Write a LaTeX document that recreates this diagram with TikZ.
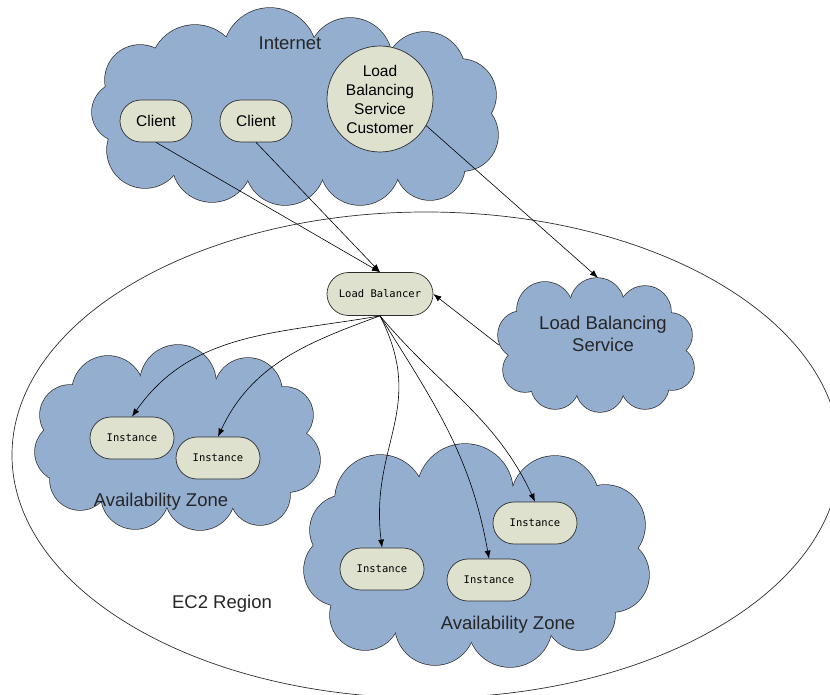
\documentclass[tikz,border=0pt]{standalone}
\usepackage{fontspec}
\setmainfont{Liberation Sans}
\newfontfamily\boxmono{DejaVu Sans Mono}
\usetikzlibrary{shapes.misc,arrows.meta}

\definecolor{cloudblue}{RGB}{148,174,208}
\definecolor{pale}{RGB}{221,225,206}
\definecolor{edge}{RGB}{45,45,45}

% a cloud made of overlapping puffs: outline first, then the fill on top,
% so that only the outer half of each puff's border stays visible
\newcommand\puffcloud[2]{%
  \foreach \px/\py/\pr in {#1}
    \draw[edge, line width=1.4pt] (\px,-\py) circle[radius=\pr];
  \foreach \px/\py/\pr in {#1}
    \fill[cloudblue] (\px,-\py) circle[radius=\pr];
  \fill[cloudblue] #2;
}

\tikzset{
  capsule/.style={rounded rectangle, draw=edge, line width=0.7pt, fill=pale,
    inner sep=0pt},
  client/.style={capsule, minimum width=72pt, minimum height=42pt,
    font=\fontsize{15.5}{18}\selectfont},
  instance/.style={capsule, minimum width=84pt, minimum height=42pt,
    font=\boxmono\fontsize{10.5}{12}\selectfont},
  label/.style={font=\fontsize{18.5}{22}\selectfont, text=black!85},
  link/.style={-{Latex[length=8pt,width=6pt]}, line width=0.6pt, black}
}

\begin{document}
\begin{tikzpicture}[x=1pt,y=1pt]
\useasboundingbox (0,0) rectangle (830,-695);

% EC2 region outline
\begin{scope}
  \clip (0,0) rectangle (830,-695);
  \draw[line width=0.7pt, edge] (426,-455) ellipse [x radius=414, y radius=243];
\end{scope}
\node[label] (ec2) at (222,-604) {EC2 Region};

% Internet cloud
\puffcloud{195/70/45, 270/55/47, 350/60/42, 425/72/40, 460/95/36, 462/135/36,
  430/165/35, 360/165/40, 285/165/40, 212/162/40, 145/150/38, 122/112/30,
  140/80/35}
  {(195,-70) -- (270,-55) -- (350,-60) -- (425,-72) -- (460,-95) -- (462,-135)
   -- (430,-165) -- (360,-165) -- (285,-165) -- (212,-162) -- (145,-150)
   -- (122,-112) -- (140,-80) -- cycle}

% Load Balancing Service cloud
\puffcloud{545/310/28, 597/305/27, 645/312/26, 670/335/22, 672/368/22,
  645/385/24, 600/388/24, 555/385/24, 525/370/22, 522/335/24}
  {(545,-310) -- (597,-305) -- (645,-312) -- (670,-335) -- (672,-368)
   -- (645,-385) -- (600,-388) -- (555,-385) -- (525,-370) -- (522,-335) -- cycle}
\node[inner sep=0pt, minimum width=198pt, minimum height=134pt] (lbs)
  at (598,-345) {};

% left Availability Zone cloud
\puffcloud{108/392/36, 178/383/38, 248/392/34, 285/415/28, 288/460/32,
  260/495/30, 200/495/35, 135/495/34, 80/480/30, 65/452/30, 70/415/30}
  {(108,-392) -- (178,-383) -- (248,-392) -- (285,-415) -- (288,-460)
   -- (260,-495) -- (200,-495) -- (135,-495) -- (80,-480) -- (65,-452)
   -- (70,-415) -- cycle}

% right Availability Zone cloud
\puffcloud{380/500/45, 465/492/48, 555/500/44, 605/525/40, 612/575/37,
  580/615/35, 510/625/42, 435/625/40, 365/615/35, 340/570/36, 345/530/35}
  {(380,-500) -- (465,-492) -- (555,-500) -- (605,-525) -- (612,-575)
   -- (580,-615) -- (510,-625) -- (435,-625) -- (365,-615) -- (340,-570)
   -- (345,-530) -- cycle}

% cloud captions
\node[label] (internettxt) at (290,-43) {Internet};
\node[label, align=center] (lbstxt) at (603,-334)
  {Load Balancing\\Service};
\node[label] (azltxt) at (161,-502) {Availability Zone};
\node[label] (azrtxt) at (508,-625) {Availability Zone};

% internet side
\node[client] (c1) at (156,-121) {Client};
\node[client] (c2) at (256,-121) {Client};
\node[circle, draw=edge, line width=0.7pt, fill=pale, minimum size=106pt,
  inner sep=0pt, align=center, font=\fontsize{15.5}{19}\selectfont]
  (lbsc) at (380,-99) {Load\\Balancing\\Service\\Customer};

% balancer and instances
\node[capsule, minimum width=106pt, minimum height=43pt,
  font=\boxmono\fontsize{10.5}{12}\selectfont] (lb) at (380,-294) {Load Balancer};
\node[instance] (i1) at (132,-438) {Instance};
\node[instance] (i2) at (218,-458) {Instance};
\node[instance] (i3) at (535,-523) {Instance};
\node[instance] (i4) at (382,-569) {Instance};
\node[instance] (i5) at (489,-580) {Instance};

% connections
\draw[link] (c1.south) -- (lb.north);
\draw[link] (c2.south) -- (lb.north);
\draw[link] (lbsc.-30) -- (lbs.north);
\draw[link] (lbs.west) -- (lb.east);
\draw[link] (lb.south) to[out=190, in=55] (i1.north);
\draw[link] (lb.south) to[out=200, in=65] (i2.north);
\draw[link] (lb.south) to[out=-63, in=97, looseness=1.15] (i4.north);
\draw[link] (lb.south) to[out=-58, in=100] (i5.north);
\draw[link] (lb.south) to[out=-50, in=115] (i3.north);
\end{tikzpicture}
\end{document}
